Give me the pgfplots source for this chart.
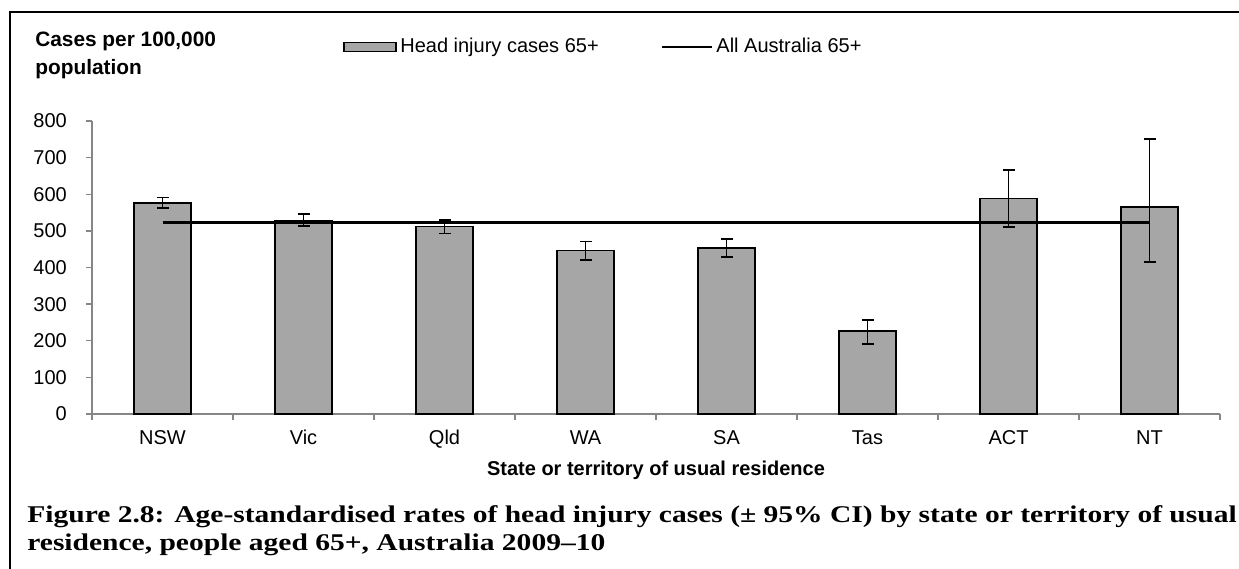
\documentclass[border=0pt]{standalone}
\usepackage{fontspec}
\setmainfont{Liberation Sans}
\newfontfamily\capfont{Liberation Serif}[FakeStretch=1.23]
\usepackage{pgfplots}
\pgfplotsset{compat=1.18}
\definecolor{barfill}{RGB}{166,166,166}
\definecolor{axisgray}{RGB}{134,134,134}

\begin{document}
\fontsize{12}{14.4}\selectfont
\begin{tikzpicture}
\useasboundingbox (0,0) rectangle (743.4pt,340.8pt);
% frame of the figure (cut at right and bottom)
\draw[line width=1.2pt] (6pt,-5pt) -- (6pt,333.6pt) -- (760pt,333.6pt);
\begin{axis}[
    at={(55.2pt,92.4pt)}, anchor=south west,
    scale only axis, width=676.8pt, height=175.8pt,
    xmin=-0.5, xmax=7.5, ymin=0, ymax=800,
    axis x line*=bottom, axis y line*=left,
    axis line style={axisgray, line width=0.8pt},
    tick align=outside,
    xtick={0,...,7},
    xticklabels={NSW,Vic,Qld,WA,SA,Tas,ACT,NT},
    major x tick style={draw=none},
    minor xtick={-0.5,0.5,...,7.5},
    ytick={0,100,...,800},
    major tick length=3.5pt, minor tick length=3.5pt,
    tick style={axisgray, line width=0.8pt},
    /pgf/number format/assume math mode=true,
    xticklabel style={anchor=base, inner sep=0pt, yshift=-15pt},
    yticklabel style={anchor=east, inner sep=0pt, xshift=-11.4pt},
    xlabel={\bfseries State or territory of usual residence},
    xlabel style={at={(axis description cs:0.5,0)}, anchor=base, inner sep=0pt, yshift=-36.6pt},
    legend cell align=left,
    legend columns=2,
    legend style={draw=none, fill=none, at={(0.2225,1.2526)}, anchor=west,
      inner sep=0pt, font=\fontsize{12}{14.4}\selectfont,
      /tikz/every even column/.append style={column sep=35pt}},
  ]
  \addplot[ybar, bar width=0.4, fill=barfill, draw=black, line width=1pt,
    legend image code/.code={\draw[fill=barfill, draw=black, line width=1pt] (0pt,-2.7pt) rectangle (31.2pt,2.7pt);},
    error bars/.cd, y dir=both, y explicit,
    error bar style={black, line width=1.1pt},
    error mark options={rotate=90, mark size=3.6pt, black, line width=1.1pt}]
    coordinates {
      (0,576) += (0,15) -= (0,13)
      (1,528) += (0,18) -= (0,15)
      (2,512) += (0,18) -= (0,19)
      (3,446) += (0,25) -= (0,25)
      (4,454) += (0,24) -= (0,26)
      (5,226) += (0,31) -= (0,34)
      (6,588) += (0,79) -= (0,78)
      (7,566) += (0,184) -= (0,150)
    };
  \addlegendentry{Head injury cases 65+}
  \addplot[black, line width=1.6pt, sharp plot, mark=none,
    legend image code/.code={\draw[black, line width=1.6pt] (0pt,0pt) -- (30pt,0pt);}]
    coordinates {(0,522) (1,522) (2,522) (3,522) (4,522) (5,522) (6,522) (7,522)};
  \addlegendentry{All Australia 65+}
\end{axis}
\node[anchor=base west, inner sep=0pt, font=\bfseries\fontsize{12.5}{15}\selectfont] at (21pt,312.6pt) {Cases per 100,000};
\node[anchor=base west, inner sep=0pt, font=\bfseries\fontsize{12.5}{15}\selectfont] at (21pt,295.8pt) {population};
\node[anchor=base west, inner sep=0pt, font=\capfont\bfseries\fontsize{14.4}{17}\selectfont] at (16.2pt,27.6pt)
  {Figure 2.8: Age-standardised rates of head injury cases (± 95\% CI) by state or territory of usual};
\node[anchor=base west, inner sep=0pt, font=\capfont\bfseries\fontsize{14.4}{17}\selectfont] at (16.2pt,10.8pt)
  {residence, people aged 65+, Australia 2009–10};
\end{tikzpicture}
\end{document}
